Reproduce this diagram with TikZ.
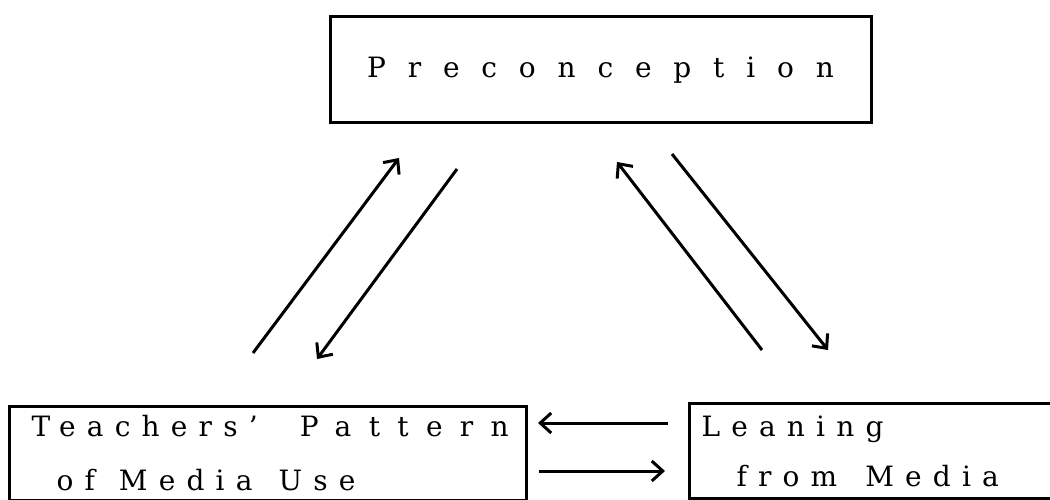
\documentclass[tikz,border=0pt]{standalone}
\usepackage{fontspec}
\setmainfont{DejaVu Serif}[LetterSpace=40]
\usetikzlibrary{arrows.meta}

\begin{document}
\begin{tikzpicture}[x=1pt,y=-1pt,line width=3pt,
		box node/.style={rectangle,draw,line width=3pt,inner ysep=0pt,
			font=\fontsize{28pt}{54pt}\selectfont},
		side box/.style={box node,anchor=north west,align=left},
		link/.style={-{Straight Barb[length=11pt,width=20pt]},line width=3pt}]

		\useasboundingbox (0,0) rectangle (1050,500);

		\node[box node, minimum width=541pt, minimum height=106pt,
			font=\fontsize{28pt}{54pt}\selectfont\addfontfeature{LetterSpace=78}] (pre) at (600.5,70) {Preconception};
		\node[side box, inner xsep=22pt, text width=473pt, minimum height=94pt] (teach) at (8,405)
			{Teachers'\hspace{42pt}{\addfontfeature{LetterSpace=62}Pattern}\\\hspace*{25pt}of\hspace{24pt}Media\hspace{26pt}Use};
		\node[side box, inner xsep=12pt, text width=400pt, minimum height=95pt,
			font=\fontsize{28pt}{50pt}\selectfont] (lean) at (688,402)
			{Leaning\\\hspace*{35pt}from\hspace{28pt}Media};

		% arrow ends
		\coordinate (t up) at (253,353);
		\coordinate (p left in) at (399,158);
		\coordinate (p left out) at (457,169);
		\coordinate (t down) at (317,359);
		\coordinate (l up) at (762,350);
		\coordinate (p right in) at (617,162);
		\coordinate (p right out) at (672,154);
		\coordinate (l down) at (828,350);
		\coordinate (l out) at (668,423);
		\coordinate (t in) at (538,423);
		\coordinate (t out) at (539,471);
		\coordinate (l in) at (665,471);

		\path[link]
		(t up) edge (p left in)
		(p left out) edge (t down)
		(l up) edge (p right in)
		(p right out) edge (l down)
		(l out) edge (t in)
		(t out) edge (l in);
\end{tikzpicture}
\end{document}
